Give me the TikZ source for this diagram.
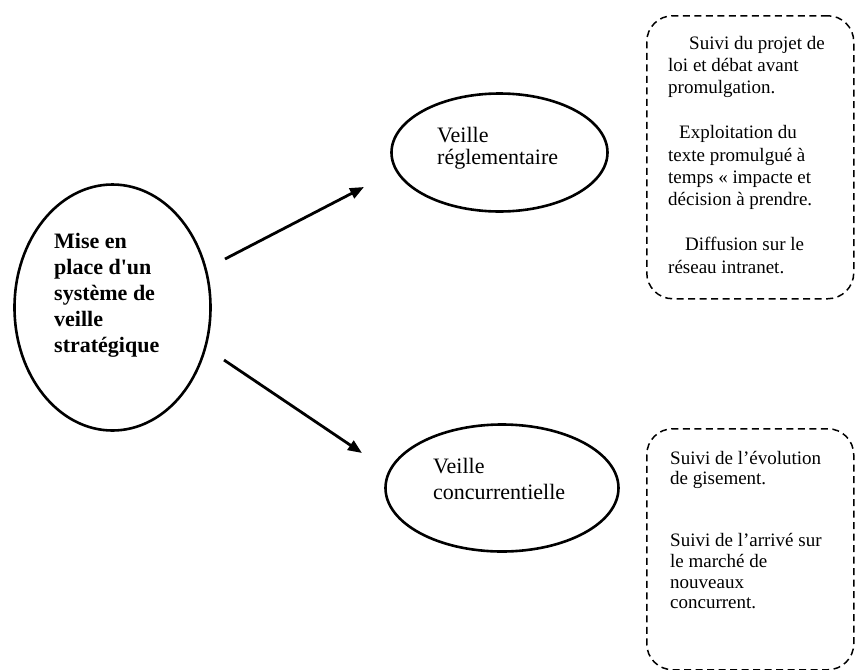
\documentclass[tikz,border=0pt]{standalone}
\usepackage{fontspec}
\setmainfont{Liberation Serif}
\usetikzlibrary{shapes.geometric,arrows.meta}
\newcommand{\straightquote}{{\XeTeXglyph\XeTeXcharglyph"0027\relax}}
\begin{document}
\begin{tikzpicture}[x=1pt,y=-1pt,
  oval/.style={draw, ellipse, line width=2.6pt, inner sep=0pt},
  note/.style={draw, dash pattern=on 7pt off 4.5pt, line width=1.5pt, rounded corners=26pt, inner sep=0pt, anchor=north west},
  txt/.style={anchor=base west, align=left, inner sep=0pt},
  arr/.style={line width=2.8pt, -{Triangle[length=14pt,width=11pt]}}]
\useasboundingbox (0,0) rectangle (855,670);
% ellipses
\node[oval, minimum width=196pt, minimum height=246pt] (main) at (112.5,307.5) {};
\node[oval, minimum width=216pt, minimum height=118pt] (regl) at (499.5,152.5) {};
\node[oval, minimum width=233pt, minimum height=127pt] (conc) at (502,488) {};
% texts in ellipses (anchored at the baseline of the last line)
\node[txt, font=\bfseries\fontsize{22}{26.2}\selectfont] (maintxt) at (54,352.8)
  {Mise en\\place d\straightquote un\\système de\\veille\\stratégique};
\node[txt, font=\fontsize{22}{22.5}\selectfont] (regltxt) at (437,164.5)
  {Veille\\réglementaire};
\node[txt, font=\fontsize{22}{26}\selectfont] (conctxt) at (433,499)
  {Veille\\concurrentielle};
% dashed boxes
\node[note, minimum width=207pt, minimum height=283pt] (box1) at (646,15) {};
\node[note, minimum width=207pt, minimum height=241pt] (box2) at (646,428) {};
\node[txt, font=\fontsize{19}{22.4}\selectfont] (box1txt) at (668,273)
  {\hspace*{21pt}Suivi du projet de\\loi et débat avant\\promulgation.\\[22.4pt]
   \hspace*{11pt}Exploitation du\\texte promulgué à\\temps « impacte et\\décision à prendre.\\[22.4pt]
   \hspace*{17pt}Diffusion sur le\\réseau intranet.};
\node[txt, font=\fontsize{19}{20.7}\selectfont] (box2txt) at (670,608.9)
  {Suivi de l’évolution\\de gisement.\\[41.4pt]
   Suivi de l’arrivé sur\\le marché de\\nouveaux\\concurrent.};
% arrows
\coordinate (a1s) at (225,259);
\coordinate (a1e) at (364,187);
\coordinate (a2s) at (224,360);
\coordinate (a2e) at (362,453);
\draw[arr] (a1s) -- (a1e);
\draw[arr] (a2s) -- (a2e);
\end{tikzpicture}
\end{document}
